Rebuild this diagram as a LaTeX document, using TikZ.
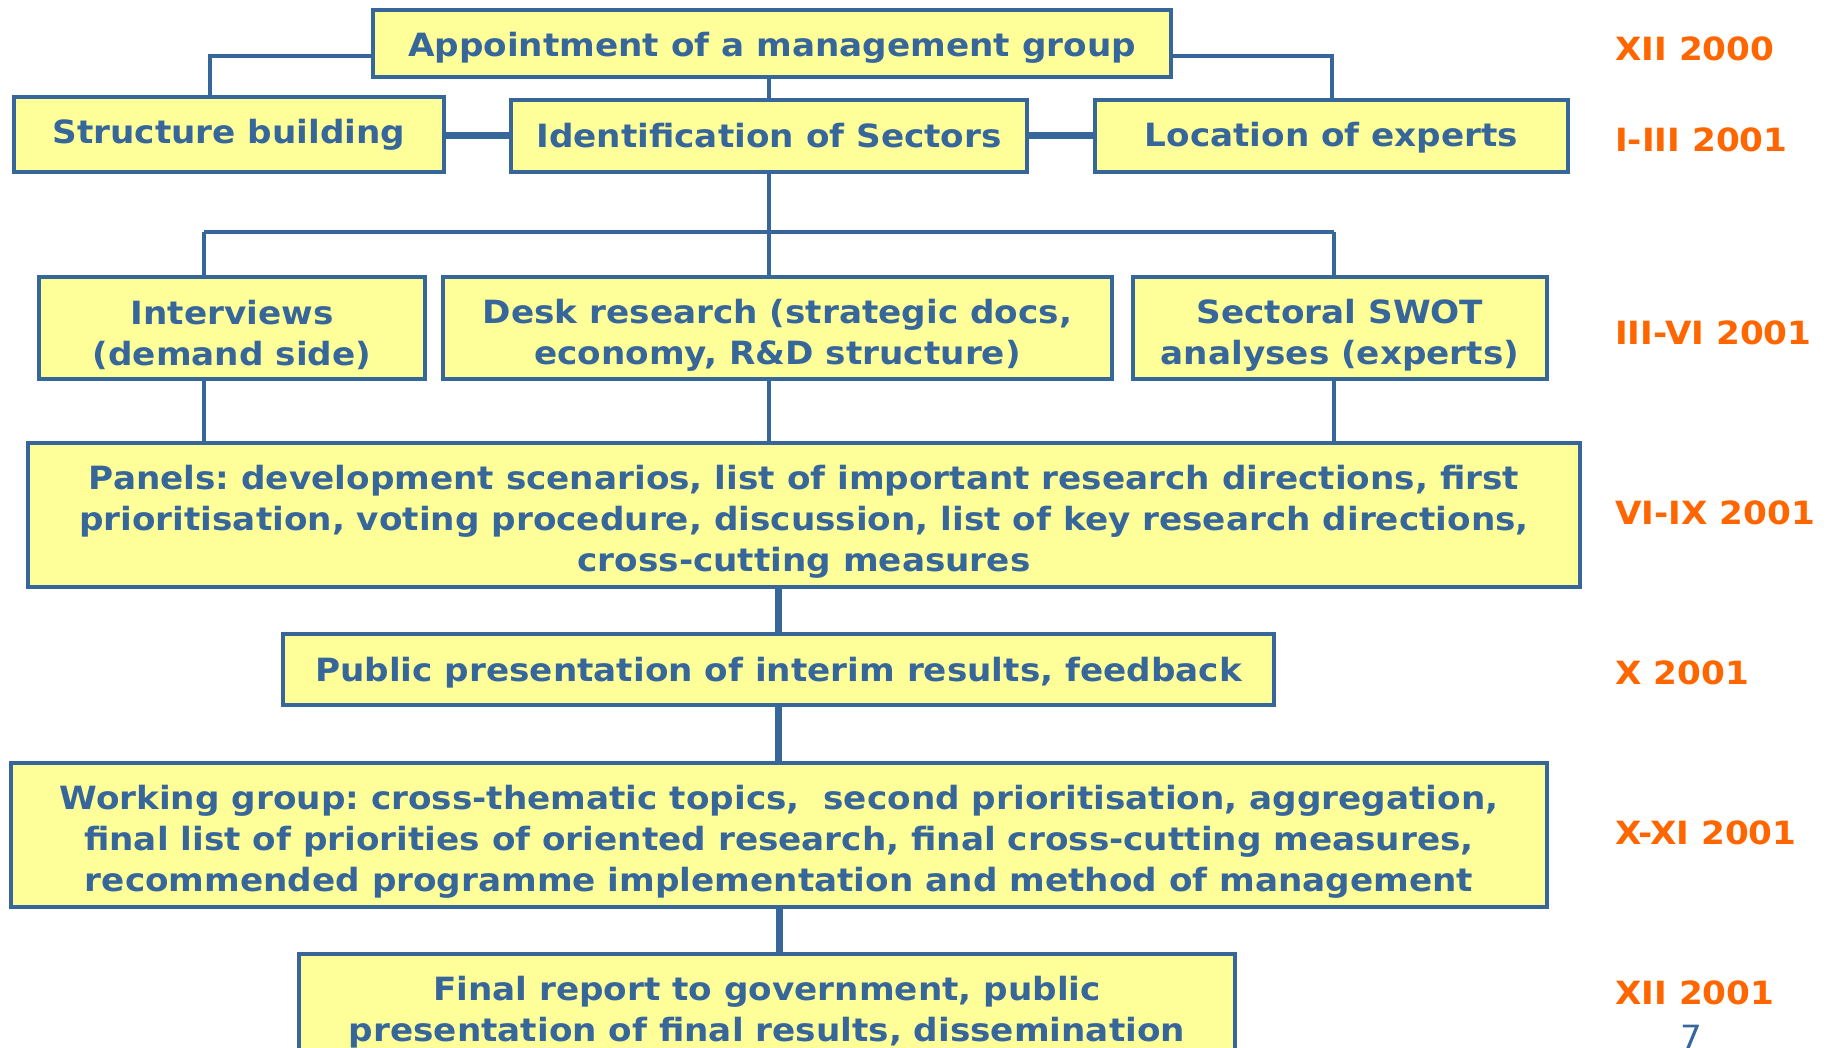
\documentclass[tikz,border=0pt]{standalone}
\usepackage{fontspec}
\setmainfont{DejaVu Sans}[FakeStretch=1.07]
\usetikzlibrary{calc}
\frenchspacing
\definecolor{boxblue}{HTML}{36669A}
\definecolor{boxfill}{HTML}{FFFF99}
\definecolor{dateorange}{HTML}{FF6600}
\tikzset{
  stepbox/.style={draw=boxblue, fill=boxfill, line width=4pt, inner sep=0pt},
  boxtext/.style={text=boxblue, align=center, inner sep=0pt, font=\fontsize{32}{41}\selectfont\bfseries},
  conn/.style={draw=boxblue, line width=4pt},
  thickconn/.style={draw=boxblue, line width=7pt},
  datelabel/.style={anchor=west, text=dateorange, inner sep=0pt, font=\fontsize{32}{38}\selectfont\bfseries}
}
\newcommand{\boxat}[7]{% name, left, top, right, bottom, text shift down, text
  \node[stepbox, minimum width={#4-#2}, minimum height={#5-#3}] (#1) at ({(#2+#4)/2},{(#3+#5)/2}) {};
  \node[boxtext] (#1-text) at ([yshift=-#6pt]#1.center) {#7};}
\begin{document}
\begin{tikzpicture}[x=1pt,y=-1pt]
\clip (0,0) rectangle (1829,1048);
\fill[white] (0,0) rectangle (1829,1048);
\coordinate (busL) at (204,232);
\coordinate (busM) at (769,232);
\coordinate (busR) at (1334,232);
\boxat{app}{373}{10}{1171}{77}{4}{Appointment of a management group}
\boxat{struct}{14}{97}{444}{172}{0}{Structure building}
\boxat{ident}{511}{100}{1027}{172}{0}{Identification of Sectors}
\boxat{loc}{1095}{100}{1568}{172}{2}{Location of experts}
\boxat{intv}{39}{277}{425}{379}{7}{Interviews\\(demand side)}
\boxat{desk}{443}{277}{1112}{379}{7}{Desk research (strategic docs,\\economy, R\&D structure)}
\boxat{swot}{1133}{277}{1547}{379}{7}{Sectoral SWOT\\analyses (experts)}
\boxat{panels}{28}{443}{1580}{587}{7}{Panels: development scenarios, list of important research directions, first\\prioritisation, voting procedure, discussion, list of key research directions,\\cross-cutting measures}
\boxat{public}{283}{634}{1274}{705}{3}{Public presentation of interim results, feedback}
\boxat{work}{11}{763}{1547}{907}{7}{Working group: cross-thematic topics,~ second prioritisation, aggregation,\\final list of priorities of oriented research, final cross-cutting measures,\\recommended programme implementation and method of management}
\node[stepbox, minimum width=936, minimum height=140] (final) at (767,1024) {};
\node[boxtext] (final-text) at (767,1012) {Final report to government, public\\presentation of final results, dissemination};
% connectors
\draw[conn] ([yshift=23pt]app.south west) -| ([xshift=-19pt]struct.north);
\draw[conn] ([yshift=23pt]app.south east) -| (loc.north);
\draw[conn] (ident.north) -- (ident.north |- app.south);
\draw[thickconn] (ident.west -| struct.east) -- (ident.west);
\draw[thickconn] (ident.east) -- (ident.east -| loc.west);
\draw[conn] (ident.south) -- (busM);
\draw[conn] (busL) -- (busR);
\draw[conn] (busL) -- (busL |- intv.north);
\draw[conn] (busM) -- (busM |- desk.north);
\draw[conn] (busR) -- (busR |- swot.north);
\draw[conn] (busL |- intv.south) -- (busL |- panels.north);
\draw[conn] (busM |- desk.south) -- (busM |- panels.north);
\draw[conn] (busR |- swot.south) -- (busR |- panels.north);
\draw[thickconn] (public.north) -- (public.north |- panels.south);
\draw[thickconn] (public.south) -- (public.south |- work.north);
\draw[thickconn] (work.south) -- (work.south |- final.north);
% dates
\node[datelabel] (d1) at (1615,49) {XII 2000};
\node[datelabel] (d2) at (1615,140) {I-III 2001};
\node[datelabel] (d3) at (1615,333) {III-VI 2001};
\node[datelabel] (d4) at (1615,513) {VI-IX 2001};
\node[datelabel] (d5) at (1615,673) {X 2001};
\node[datelabel] (d6) at (1615,833) {X-XI 2001};
\node[datelabel] (d7) at (1615,993) {XII 2001};
\node[text=boxblue, font=\fontsize{32}{38}\selectfont, inner sep=0pt] (pg) at (1691,1037) {7};
\end{tikzpicture}
\end{document}
